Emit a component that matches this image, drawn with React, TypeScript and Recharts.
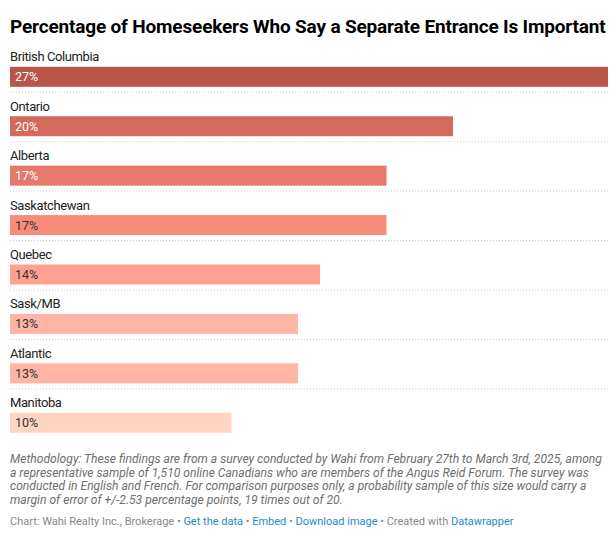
import React from 'react';
import { BarChart, Bar, XAxis, YAxis, Cell, LabelList } from 'recharts';

const regions = ['British Columbia', 'Ontario', 'Alberta', 'Saskatchewan', 'Quebec', 'Sask/MB', 'Atlantic', 'Manitoba'];
const values = [27, 20, 17, 17, 14, 13, 13, 10];
const barColors = ['#b9554a', '#d4695e', '#e5796c', '#f78c7b', '#fea191', '#ffb4a4', '#ffb4a4', '#fed4c3'];
const valueLabelColors = ['#ffffff', '#ffffff', '#ffffff', '#333333', '#333333', '#333333', '#333333', '#333333'];

const title = 'Percentage of Homeseekers Who Say a Separate Entrance Is Important';
const noteLines = [
  'Methodology: These findings are from a survey conducted by Wahi from February 27th to March 3rd, 2025, among',
  'a representative sample of 1,510 online Canadians who are members of the Angus Reid Forum. The survey was',
  'conducted in English and French. For comparison purposes only, a probability sample of this size would carry a',
  'margin of error of +/-2.53 percentage points, 19 times out of 20.',
];

const data = regions.map((region, i) => ({ region, value: values[i] }));

const FONT = 'Roboto, "Noto Sans", sans-serif';
const PLOT_W = 598;

const BarShape = (props: any) => {
  const { x, y, width, height, index, fill } = props;
  const bgW = props.background && props.background.width ? props.background.width : PLOT_W;
  return (
    <g>
      <rect x={x} y={y} width={width} height={height} fill={fill} />
      {index < regions.length - 1 && (
        <line
          x1={x}
          x2={x + bgW}
          y1={y + height + 5.5}
          y2={y + height + 5.5}
          stroke="#cccccc"
          strokeWidth={1}
          strokeDasharray="1 2"
        />
      )}
    </g>
  );
};

const RegionLabel = (props: any) => {
  const { x, y, index } = props;
  return (
    <text x={x} y={y - 5.5} fontFamily={FONT} fontSize={13} letterSpacing={-0.4} fill="#222222">
      {regions[index]}
    </text>
  );
};

const ValueLabel = (props: any) => {
  const { x, y, height, index } = props;
  return (
    <text
      x={x + 5}
      y={y + height / 2}
      dominantBaseline="central"
      fontFamily={FONT}
      fontSize={12.5}
      fill={valueLabelColors[index]}
    >
      {values[index]}%
    </text>
  );
};

export default function App() {
  return (
    <div style={{ position: 'relative', width: 600, height: 522, fontFamily: FONT }}>
      <div
        style={{
          position: 'absolute',
          left: 2,
          top: 8,
          fontSize: 19,
          lineHeight: '22px',
          fontWeight: 700,
          color: '#000',
          whiteSpace: 'nowrap',
          letterSpacing: '-0.17px',
        }}
      >
        {title}
      </div>
      <div style={{ position: 'absolute', left: 0, top: 0 }}>
        <BarChart
          width={600}
          height={445}
          layout="vertical"
          data={data}
          margin={{ top: 43.8, right: 0, bottom: 5.8, left: 2 }}
        >
          <XAxis type="number" domain={[0, 27]} hide />
          <YAxis type="category" dataKey="region" hide />
          <Bar dataKey="value" barSize={20} isAnimationActive={false} shape={<BarShape />}>
            {data.map((d, i) => (
              <Cell key={d.region} fill={barColors[i]} />
            ))}
            <LabelList dataKey="region" content={<RegionLabel />} />
            <LabelList dataKey="value" content={<ValueLabel />} />
          </Bar>
        </BarChart>
      </div>
      <div
        style={{
          position: 'absolute',
          left: 2,
          top: 445,
          fontSize: 12.1,
          lineHeight: '13.7px',
          fontStyle: 'italic',
          color: '#6e6e6e',
          whiteSpace: 'nowrap',
        }}
      >
        {noteLines.map((l) => (
          <div key={l}>{l}</div>
        ))}
      </div>
      <div
        style={{
          position: 'absolute',
          left: 2,
          top: 507,
          fontSize: 11,
          lineHeight: '14px',
          color: '#888888',
          whiteSpace: 'nowrap',
        }}
      >
        Chart: Wahi Realty Inc., Brokerage •{' '}
        <span style={{ color: '#1d8ad0' }}>Get the data</span> •{' '}
        <span style={{ color: '#1d8ad0' }}>Embed</span>{'  '}•{' '}
        <span style={{ color: '#1d8ad0' }}>Download image</span> • Created with{' '}
        <span style={{ color: '#1d8ad0' }}>Datawrapper</span>
      </div>
    </div>
  );
}
